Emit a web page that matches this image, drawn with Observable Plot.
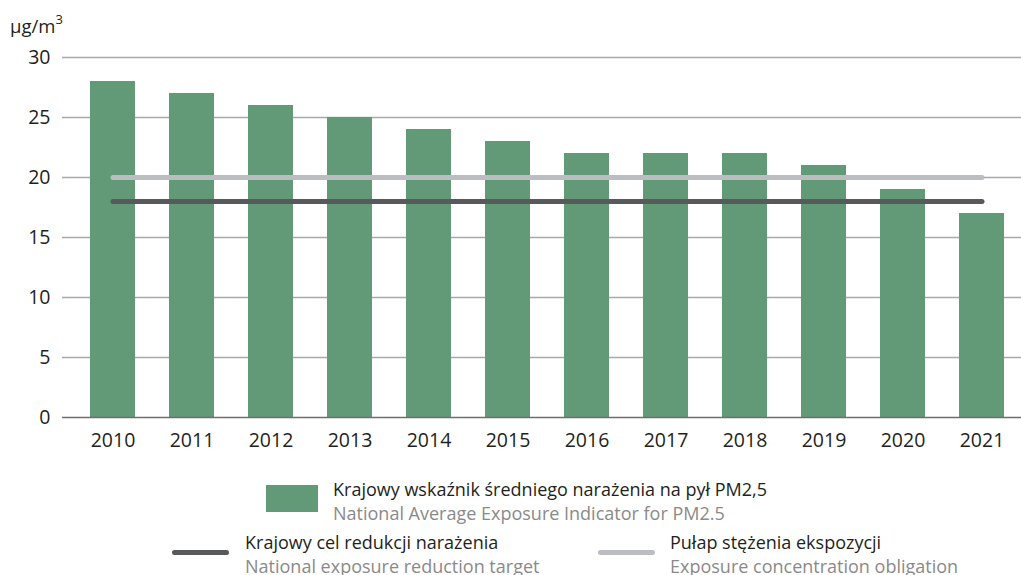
<!DOCTYPE html>
<html>
<head>
<meta charset="utf-8">
<script src="https://cdn.jsdelivr.net/npm/d3@7"></script>
<script src="https://cdn.jsdelivr.net/npm/@observablehq/plot@0.6"></script>
<style>
  html, body { margin: 0; padding: 0; background: #fff; }
  body { width: 1021px; height: 575px; position: relative; overflow: hidden; font-family: "Open Sans", sans-serif; color: #231f20; }
  #chart { position: absolute; left: 0; top: 0; }
  .unit { position: absolute; left: 10px; top: 12px; font-size: 18.5px; }
  .unit sup { font-size: 13px; position: relative; top: -2px; }
  .lg { position: absolute; font-size: 18px; line-height: 24px; }
  .lg .pl { color: #231f20; }
  .lg .en { color: #8a8a8a; }
  .sw { position: absolute; }
</style>
</head>
<body>
<div id="chart"></div>
<div class="unit">µg/m<sup>3</sup></div>

<div class="sw" style="left:266px;top:485px;width:52px;height:27px;background:#629a78"></div>
<div class="lg" style="left:333px;top:477px"><div class="pl">Krajowy wskaźnik średniego narażenia na pył PM2,5</div><div class="en">National Average Exposure Indicator for PM2.5</div></div>

<div class="sw" style="left:172px;top:550px;width:57px;height:5px;border-radius:3px;background:#58595b"></div>
<div class="lg" style="left:245px;top:530px"><div class="pl">Krajowy cel redukcji narażenia</div><div class="en">National exposure reduction target</div></div>

<div class="sw" style="left:598px;top:550px;width:57px;height:5px;border-radius:3px;background:#bcbdc0"></div>
<div class="lg" style="left:670px;top:530px"><div class="pl">Pułap stężenia ekspozycji</div><div class="en">Exposure concentration obligation</div></div>

<script>
const years = ["2010","2011","2012","2013","2014","2015","2016","2017","2018","2019","2020","2021"];
const exposure = [28, 27, 26, 25, 24, 23, 22, 22, 22, 21, 19, 17];
const reductionTarget = [18, 18, 18, 18, 18, 18, 18, 18, 18, 18, 18, 18];
const concentrationObligation = [20, 20, 20, 20, 20, 20, 20, 20, 20, 20, 20, 20];
const yTicks = [0, 5, 10, 15, 20, 25, 30];

const rows = years.map((y, i) => ({year: y, v: exposure[i], t: reductionTarget[i], o: concentrationObligation[i]}));

const chart = Plot.plot({
  width: 1021,
  height: 460,
  marginLeft: 62,
  marginRight: 0,
  marginTop: 57,
  marginBottom: 43,
  style: {fontFamily: "'Open Sans', sans-serif", fontSize: "19.5px", color: "#231f20", background: "transparent"},
  x: {domain: years, range: [62, 1033], paddingInner: 0.43, paddingOuter: 0.325, label: null, tickSize: 0, tickPadding: 16},
  y: {domain: [0, 30], ticks: yTicks, label: null, tickSize: 0, tickPadding: 12},
  marks: [
    Plot.gridY(yTicks.filter(d => d > 0), {stroke: "#a7a9ac", strokeOpacity: 1, strokeWidth: 1.5}),
    Plot.barY(rows, {x: "year", y: "v", fill: "#629a78"}),
    Plot.ruleY([0], {stroke: "#6d6e71", strokeWidth: 1.5}),
    Plot.lineY(rows, {x: "year", y: "o", stroke: "#bcbdc0", strokeWidth: 5, strokeLinecap: "round"}),
    Plot.lineY(rows, {x: "year", y: "t", stroke: "#58595b", strokeWidth: 5, strokeLinecap: "round"})
  ]
});
document.getElementById("chart").appendChild(chart);
</script>
</body>
</html>
